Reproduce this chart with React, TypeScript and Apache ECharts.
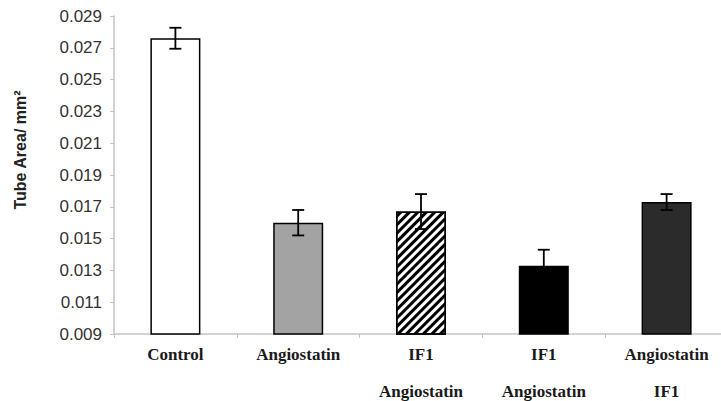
import React, { useEffect, useRef } from "react";
import * as echarts from "echarts";

const categories = ["Control", "Angiostatin", "IF1\nAngiostatin", "IF1\nAngiostatin", "Angiostatin\nIF1"];
const means = [0.0276, 0.016, 0.0167, 0.0133, 0.0173];
const errors = [0.00066, 0.0008, 0.0011, 0.001, 0.0005];
const yTicks = [0.009, 0.011, 0.013, 0.015, 0.017, 0.019, 0.021, 0.023, 0.025, 0.027, 0.029];
const barColors = ["#ffffff", "#a3a3a3", "#ffffff", "#000000", "#2b2b2b"];
const hatched = [false, false, true, false, false];
const yTitle = "Tube Area/ mm²";

export default function App() {
  const ref = useRef<HTMLDivElement>(null);
  useEffect(() => {
    document.body.style.margin = "0";
    const chart = echarts.init(ref.current!, null, { renderer: "svg" });
    const barData = means.map((v, i) => {
      const item: any = {
        value: v,
        itemStyle: { color: barColors[i], borderColor: "#000", borderWidth: 1.5 },
      };
      if (hatched[i]) {
        item.itemStyle.decal = {
          symbol: "rect",
          symbolSize: 1,
          color: "#000",
          dashArrayX: [1, 0],
          dashArrayY: [3, 3],
          rotation: -Math.PI / 4,
        };
      }
      return item;
    });
    const errData = means.map((v, i) => [i, v, errors[i]]);
    chart.setOption({
      animation: false,
      grid: { left: 114, top: 16, bottom: 67, width: 614, outerBoundsMode: "none", containLabel: false },
      xAxis: {
        type: "category",
        data: categories,
        axisLine: { lineStyle: { color: "#c4c4c4", width: 1.5 } },
        axisTick: { show: true, length: 4, lineStyle: { color: "#c4c4c4" } },
        axisLabel: {
          fontFamily: "Liberation Serif",
          fontWeight: "bold",
          fontSize: 17,
          color: "#1a1a1a",
          lineHeight: 37,
          margin: 2,
          interval: 0,
        },
      },
      yAxis: {
        type: "value",
        min: 0.009,
        max: 0.029,
        splitLine: { show: false },
        axisLine: { show: true, lineStyle: { color: "#c4c4c4", width: 1.5 } },
        axisTick: { show: true, length: 4, customValues: yTicks, lineStyle: { color: "#c4c4c4" } },
        axisLabel: {
          customValues: yTicks,
          formatter: (v: number) => v.toFixed(3),
          fontFamily: "Liberation Sans",
          fontSize: 17,
          color: "#333",
          margin: 12,
        },
      },
      graphic: [
        {
          type: "text",
          x: 20,
          y: 150,
          rotation: Math.PI / 2,
          style: {
            text: yTitle,
            font: "bold 16px 'Liberation Sans'",
            fill: "#222",
            textAlign: "center",
            textVerticalAlign: "middle",
          },
        },
      ],
      series: [
        {
          type: "bar",
          data: barData,
          barWidth: 50,
        },
        {
          type: "custom",
          data: errData,
          z: 10,
          renderItem: (params: any, api: any) => {
            const x = api.value(0);
            const m = api.value(1);
            const e = api.value(2);
            const top = api.coord([x, m + e]);
            const bot = api.coord([x, m - e]);
            const hw = 6;
            const style = { stroke: "#000", lineWidth: 1.8 };
            return {
              type: "group",
              children: [
                { type: "line", shape: { x1: top[0], y1: top[1], x2: bot[0], y2: bot[1] }, style },
                { type: "line", shape: { x1: top[0] - hw, y1: top[1], x2: top[0] + hw, y2: top[1] }, style },
                { type: "line", shape: { x1: bot[0] - hw, y1: bot[1], x2: bot[0] + hw, y2: bot[1] }, style },
              ],
            };
          },
        },
      ],
    });
    return () => chart.dispose();
  }, []);
  return <div ref={ref} style={{ width: 721, height: 401 }} />;
}
